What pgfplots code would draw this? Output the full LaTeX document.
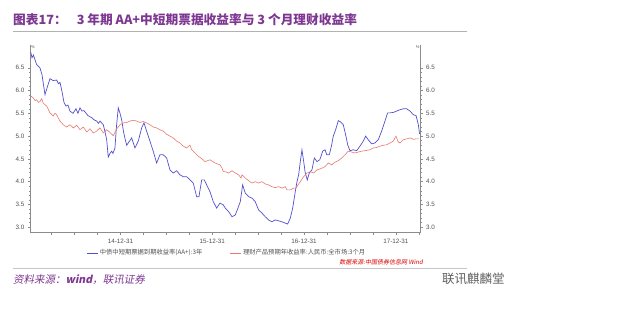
\documentclass[border=0pt]{standalone}
\usepackage{pgfplots}
\pgfplotsset{compat=1.18}
\usepackage{fontspec}
\setmainfont{Liberation Sans}
\newfontfamily\cjk{Noto Sans CJK SC}
\newfontfamily\cjkit{Noto Sans CJK SC}[FakeSlant=0.2]
\definecolor{bl}{RGB}{80,80,205}
\definecolor{rd}{RGB}{232,120,110}
\definecolor{ttl}{RGB}{125,55,145}
\definecolor{axg}{RGB}{140,140,140}
\definecolor{lbl}{RGB}{80,80,80}
\begin{document}
\begin{tikzpicture}[x=1bp,y=1bp]
\path[use as bounding box] (0,0) rectangle (640,308);
\node[anchor=west, text=ttl, font=\cjk\bfseries\fontsize{12.7bp}{14bp}\selectfont, inner sep=0] at (13,288.5) {图表17：\hspace{10bp}3 年期 AA+中短期票据收益率与 3 个月理财收益率};
\draw[gray!60, line width=0.8bp] (13,277) -- (467,277);
\draw[gray!45, line width=0.6bp] (13,40) -- (467,40);
\node[anchor=east, text=red!85!black, font=\cjkit\fontsize{6bp}{7bp}\selectfont, inner sep=0] at (423,45.5) {数据来源:中国债券信息网 Wind};
\node[anchor=west, text=ttl, font=\cjkit\fontsize{10.5bp}{12bp}\selectfont, inner sep=0] at (13,28) {资料来源：\textbf{wind}，联讯证券};
\node[anchor=west, text=gray!75!black, font=\cjk\fontsize{12.5bp}{14bp}\selectfont, inner sep=0] at (442,29) {联讯麒麟堂};
\begin{axis}[
  at={(30.5bp,75.3bp)}, anchor=south west, scale only axis,
  width=389.5bp, height=187.7bp,
  xmin=2014.02, xmax=2018.263, ymin=2.88, ymax=7.0,
  axis x line*=bottom, axis y line*=left,
  axis line style={draw=axg, line width=0.5bp, -},
  xtick={2014.25,2014.5,2014.75,2015,2015.25,2015.5,2015.75,2016,2016.25,2016.5,2016.75,2017,2017.25,2017.5,2017.75,2018,2018.25},
  xticklabels={,,,14-12-31,,,,15-12-31,,,,16-12-31,,,,17-12-31,},
  ytick={3,3.5,4,4.5,5,5.5,6,6.5},
  yticklabels={3.0,3.5,4.0,4.5,5.0,5.5,6.0,6.5},
  minor y tick num=4,
  tick align=outside, major tick length=2.5bp, minor tick length=1.5bp,
  every tick/.style={draw=axg, line width=0.4bp},
  ticklabel style={font=\fontsize{6.3bp}{7bp}\selectfont, text=lbl},
  /pgf/number format/assume math mode=true,
  legend columns=2,
  legend style={at={(axis description cs:0.1425,-0.108)}, anchor=west, draw=none, fill=none, inner sep=0pt,
    font=\cjk\fontsize{6.3bp}{7bp}\selectfont, text=lbl,
    /tikz/every even column/.append style={column sep=25bp}},
  legend image code/.code={\draw[#1] (0bp,0bp) -- (11bp,0bp);},
]
\addplot[bl, line width=0.7bp] coordinates {
(2014.022,6.85)(2014.036,6.72)(2014.052,6.78)(2014.087,6.57)(2014.123,6.50)(2014.145,6.35)(2014.178,5.91)(2014.199,6.05)(2014.232,6.26)(2014.265,6.22)(2014.305,6.23)(2014.325,6.15)(2014.341,6.18)(2014.359,6.02)(2014.385,5.74)(2014.406,5.66)(2014.428,5.68)(2014.450,5.55)(2014.483,5.50)(2014.515,5.60)(2014.537,5.50)(2014.559,5.62)(2014.581,5.55)(2014.602,5.56)(2014.646,5.45)(2014.690,5.40)(2014.711,5.36)(2014.741,5.33)(2014.760,5.28)(2014.777,5.33)(2014.813,5.25)(2014.831,5.10)(2014.850,4.92)(2014.867,4.54)(2014.886,4.62)(2014.904,4.67)(2014.918,4.62)(2014.940,4.74)(2014.956,5.20)(2014.976,5.62)(2014.995,5.50)(2015.013,5.36)(2015.033,5.10)(2015.049,4.95)(2015.068,4.80)(2015.085,4.85)(2015.122,4.96)(2015.158,4.74)(2015.194,4.89)(2015.231,5.18)(2015.256,5.29)(2015.285,5.11)(2015.321,4.89)(2015.357,4.67)(2015.394,4.41)(2015.430,4.59)(2015.466,4.59)(2015.503,4.52)(2015.539,4.26)(2015.575,4.19)(2015.612,4.24)(2015.648,4.15)(2015.684,4.11)(2015.721,4.11)(2015.757,4.04)(2015.793,3.97)(2015.830,3.67)(2015.855,3.67)(2015.885,4.04)(2015.913,4.04)(2015.939,3.93)(2015.975,3.78)(2016.011,3.56)(2016.048,3.42)(2016.084,3.53)(2016.120,3.49)(2016.142,3.42)(2016.179,3.34)(2016.215,3.23)(2016.251,3.27)(2016.280,3.42)(2016.305,3.56)(2016.331,3.93)(2016.359,3.75)(2016.397,3.67)(2016.433,3.64)(2016.468,3.56)(2016.505,3.38)(2016.541,3.31)(2016.577,3.23)(2016.614,3.16)(2016.650,3.12)(2016.686,3.16)(2016.723,3.14)(2016.759,3.12)(2016.795,3.09)(2016.821,3.07)(2016.850,3.20)(2016.876,3.42)(2016.904,3.78)(2016.923,4.00)(2016.941,4.15)(2016.959,4.44)(2016.977,4.70)(2016.996,4.44)(2017.013,4.19)(2017.035,4.04)(2017.057,4.19)(2017.086,4.26)(2017.112,4.52)(2017.141,4.44)(2017.171,4.48)(2017.203,4.67)(2017.229,4.70)(2017.247,4.59)(2017.275,4.59)(2017.301,4.81)(2017.318,5.00)(2017.344,5.14)(2017.373,5.34)(2017.399,5.31)(2017.427,5.25)(2017.453,5.03)(2017.475,4.81)(2017.500,4.68)(2017.536,4.70)(2017.573,4.68)(2017.609,4.78)(2017.645,4.89)(2017.671,5.00)(2017.699,4.92)(2017.736,4.83)(2017.772,4.85)(2017.808,4.92)(2017.845,5.11)(2017.881,5.33)(2017.910,5.51)(2017.936,5.51)(2017.972,5.52)(2018.009,5.55)(2018.045,5.58)(2018.081,5.60)(2018.118,5.60)(2018.154,5.55)(2018.190,5.47)(2018.220,5.45)(2018.245,5.25)(2018.258,5.05)
};
\addlegendentry{中债中短期票据到期收益率(AA+):3年}
\addplot[rd, line width=0.6bp] coordinates {
(2014.022,5.88)(2014.050,5.84)(2014.069,5.78)(2014.087,5.80)(2014.107,5.74)(2014.123,5.76)(2014.142,5.82)(2014.159,5.72)(2014.196,5.66)(2014.232,5.51)(2014.268,5.44)(2014.286,5.50)(2014.305,5.47)(2014.341,5.33)(2014.377,5.25)(2014.414,5.20)(2014.450,5.25)(2014.486,5.18)(2014.523,5.24)(2014.559,5.14)(2014.595,5.20)(2014.632,5.09)(2014.668,5.16)(2014.704,5.07)(2014.741,5.11)(2014.777,5.18)(2014.813,5.07)(2014.850,5.14)(2014.886,5.08)(2014.922,5.01)(2014.959,5.16)(2014.995,5.25)(2015.031,5.29)(2015.068,5.30)(2015.104,5.33)(2015.139,5.35)(2015.176,5.33)(2015.212,5.30)(2015.248,5.32)(2015.285,5.29)(2015.321,5.25)(2015.357,5.20)(2015.394,5.18)(2015.430,5.14)(2015.466,5.11)(2015.503,5.04)(2015.539,5.00)(2015.575,4.96)(2015.612,4.89)(2015.648,4.85)(2015.684,4.78)(2015.721,4.74)(2015.757,4.80)(2015.776,4.70)(2015.812,4.63)(2015.847,4.56)(2015.888,4.50)(2015.920,4.44)(2015.975,4.48)(2016.029,4.41)(2016.084,4.37)(2016.106,4.30)(2016.120,4.22)(2016.142,4.22)(2016.179,4.19)(2016.215,4.24)(2016.251,4.19)(2016.288,4.15)(2016.313,4.08)(2016.324,4.15)(2016.359,4.08)(2016.397,4.02)(2016.432,3.97)(2016.468,4.00)(2016.505,3.97)(2016.541,4.00)(2016.577,3.95)(2016.614,3.93)(2016.650,3.89)(2016.686,3.87)(2016.723,3.89)(2016.759,3.86)(2016.795,3.89)(2016.814,3.82)(2016.850,3.82)(2016.887,3.86)(2016.912,3.86)(2016.934,3.93)(2016.959,4.00)(2016.996,4.11)(2017.032,4.19)(2017.068,4.22)(2017.105,4.19)(2017.141,4.26)(2017.176,4.28)(2017.228,4.33)(2017.264,4.41)(2017.301,4.37)(2017.337,4.43)(2017.373,4.46)(2017.410,4.52)(2017.446,4.59)(2017.481,4.67)(2017.519,4.65)(2017.554,4.63)(2017.590,4.65)(2017.627,4.67)(2017.663,4.68)(2017.718,4.70)(2017.754,4.74)(2017.791,4.75)(2017.827,4.78)(2017.863,4.80)(2017.900,4.81)(2017.936,4.85)(2017.972,4.89)(2018.001,5.00)(2018.026,4.87)(2018.045,4.85)(2018.081,4.92)(2018.118,4.94)(2018.154,4.96)(2018.190,4.93)(2018.227,4.94)(2018.252,4.94)
};
\addlegendentry{理财产品预期年收益率:人民币:全市场:3个月}
\node[anchor=north west, font=\fontsize{4bp}{4bp}\selectfont, text=lbl, inner sep=0.5bp] at (axis description cs:0,1) {\%};
\end{axis}
\begin{axis}[
  at={(30.5bp,75.3bp)}, anchor=south west, scale only axis,
  width=389.5bp, height=187.7bp,
  xmin=2014.02, xmax=2018.263, ymin=2.88, ymax=7.0,
  axis x line=none, axis y line*=right,
  axis line style={draw=axg, line width=0.5bp, -},
  ytick={3,3.5,4,4.5,5,5.5,6,6.5},
  yticklabels={3.0,3.5,4.0,4.5,5.0,5.5,6.0,6.5},
  minor y tick num=4,
  tick align=outside, major tick length=2.5bp, minor tick length=1.5bp,
  every tick/.style={draw=axg, line width=0.4bp},
  ticklabel style={font=\fontsize{6.3bp}{7bp}\selectfont, text=lbl},
  /pgf/number format/assume math mode=true,
]
\node[anchor=north east, font=\fontsize{4bp}{4bp}\selectfont, text=lbl, inner sep=0.5bp] at (axis description cs:1,1) {\%};
\end{axis}
\end{tikzpicture}
\end{document}
